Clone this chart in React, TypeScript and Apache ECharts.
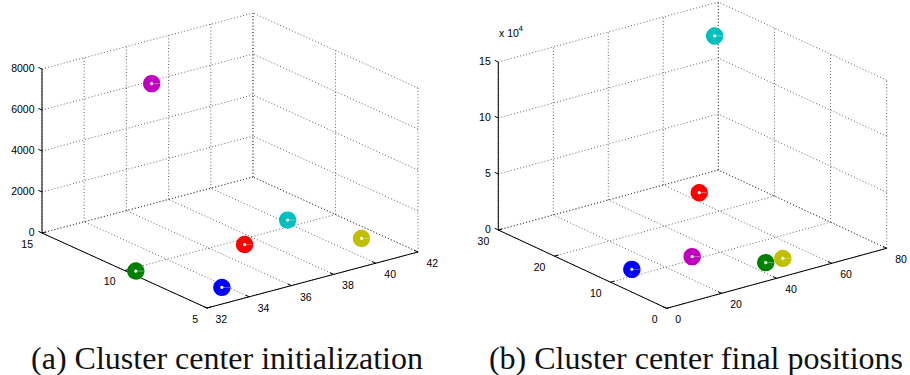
import React, { useEffect, useRef } from 'react';
import * as echarts from 'echarts';

// ---------- data ----------
const clusterColors = ['#0000ff', '#008000', '#ff0000', '#00bfbf', '#bf00bf', '#bfbf00'];

// (a) initial cluster centers
const initX = [33.8, 32.3, 37.3, 40.2, 35.4, 41.2];
const initY = [6.4, 9.7, 9.5, 10.6, 12.7, 7.4];
const initZ = [0, 0, 0, 0, 7200, 0];

// (b) final cluster centers
const finalX = [11.2, 45.2, 39.6, 65.2, 31.3, 51.2];
const finalY = [11.7, 4.5, 13.6, 23.4, 10.8, 4.4];
const finalZ = [0, 0, 45000, 145000, 0, 0];

const xTicksA = [32, 34, 36, 38, 40, 42];
const yTicksA = [5, 10, 15];
const zTicksA = [0, 2000, 4000, 6000, 8000];

const xTicksB = [0, 20, 40, 60, 80];
const yTicksB = [0, 10, 20, 30];
const zTicksB = [0, 50000, 100000, 150000];
const zExponentB = 4;

const captions = ['(a) Cluster center initialization', '(b) Cluster center final positions'];

// ---------- layout (pixel geometry of the projected boxes) ----------
const layoutA = { origin: [207, 308], xVec: [211, -56], yVec: [-165, -75], zLen: 164, zScale: 1 };
const layoutB = { origin: [666.7, 308.3], xVec: [220, -60], yVec: [-168.4, -78.3], zLen: 168, zScale: Math.pow(10, zExponentB) };

const TICK_FONT = '10.5px "Liberation Sans", Arial, sans-serif';

type Proj = (x: number, y: number, z: number) => number[];

function makeProj(L: any, xT: number[], yT: number[], zT: number[]): Proj {
  const x0 = xT[0], x1 = xT[xT.length - 1];
  const y0 = yT[0], y1 = yT[yT.length - 1];
  const z0 = zT[0], z1 = zT[zT.length - 1];
  return (x, y, z) => {
    const u = (x - x0) / (x1 - x0);
    const v = (y - y0) / (y1 - y0);
    const w = (z - z0) / (z1 - z0);
    return [
      L.origin[0] + u * L.xVec[0] + v * L.yVec[0],
      L.origin[1] + u * L.xVec[1] + v * L.yVec[1] - w * L.zLen,
    ];
  };
}

function unit(v: number[]) {
  const n = Math.hypot(v[0], v[1]);
  return [v[0] / n, v[1] / n];
}

function panelSeries(L: any, xT: number[], yT: number[], zT: number[], xs: number[], ys: number[], zs: number[]) {
  const proj = makeProj(L, xT, yT, zT);
  const xmin = xT[0], xmax = xT[xT.length - 1];
  const ymin = yT[0], ymax = yT[yT.length - 1];
  const zmin = zT[0], zmax = zT[zT.length - 1];

  const gridSegs: number[][] = [];
  xT.forEach((x) => gridSegs.push([x, ymin, zmin, x, ymax, zmin]));
  yT.forEach((y) => gridSegs.push([xmin, y, zmin, xmax, y, zmin]));
  xT.forEach((x) => gridSegs.push([x, ymax, zmin, x, ymax, zmax]));
  zT.forEach((z) => gridSegs.push([xmin, ymax, z, xmax, ymax, z]));
  yT.forEach((y) => gridSegs.push([xmax, y, zmin, xmax, y, zmax]));
  zT.forEach((z) => gridSegs.push([xmax, ymin, z, xmax, ymax, z]));

  const axisSegs: number[][] = [
    [xmin, ymin, zmin, xmax, ymin, zmin],
    [xmin, ymin, zmin, xmin, ymax, zmin],
    [xmin, ymax, zmin, xmin, ymax, zmax],
  ];

  const tickData: number[][] = [];
  xT.forEach((x) => tickData.push([0, x]));
  yT.forEach((y) => tickData.push([1, y]));
  zT.forEach((z) => tickData.push([2, z]));

  const uX = unit(L.xVec);
  const uY = unit(L.yVec);
  const TL = 4;

  const segRender = (style: any) => (params: any, api: any) => {
    const a = proj(api.value(0), api.value(1), api.value(2));
    const b = proj(api.value(3), api.value(4), api.value(5));
    return { type: 'line', shape: { x1: a[0], y1: a[1], x2: b[0], y2: b[1] }, style };
  };

  const grid = {
    type: 'custom', coordinateSystem: 'none', silent: true, z: 1,
    data: gridSegs,
    renderItem: segRender({ stroke: '#222', lineWidth: 0.7, lineDash: [1, 2.2], fill: null }),
  };
  const axes = {
    type: 'custom', coordinateSystem: 'none', silent: true, z: 2,
    data: axisSegs,
    renderItem: segRender({ stroke: '#000', lineWidth: 1, fill: null }),
  };
  const ticks = {
    type: 'custom', coordinateSystem: 'none', silent: true, z: 2,
    data: tickData,
    renderItem: (params: any, api: any) => {
      const ax = api.value(0);
      const val = api.value(1);
      let p: number[], d: number[], tx: number, ty: number, align: string, label: string;
      if (ax === 0) {
        p = proj(val, ymin, zmin); d = uY;
        tx = p[0] + 8.5; ty = p[1] + 11; align = 'left'; label = String(val);
      } else if (ax === 1) {
        p = proj(xmin, val, zmin); d = uX;
        tx = p[0] - 9; ty = p[1] + 10.5; align = 'right'; label = String(val);
      } else {
        p = proj(xmin, ymax, val); d = uY;
        tx = p[0] - 7.5; ty = p[1] - 1; align = 'right'; label = String(val / L.zScale);
      }
      return {
        type: 'group',
        children: [
          { type: 'line', shape: { x1: p[0], y1: p[1], x2: p[0] + d[0] * TL, y2: p[1] + d[1] * TL }, style: { stroke: '#000', lineWidth: 1 } },
          { type: 'text', x: tx, y: ty, style: { text: label, font: TICK_FONT, fill: '#000', align, verticalAlign: 'middle' } },
        ],
      };
    },
  };
  const points = {
    type: 'custom', coordinateSystem: 'none', silent: true, z: 3,
    data: xs.map((x, i) => [x, ys[i], zs[i], i]),
    renderItem: (params: any, api: any) => {
      const p = proj(api.value(0), api.value(1), api.value(2));
      const c = clusterColors[api.value(3)];
      return {
        type: 'group',
        children: [
          { type: 'circle', shape: { cx: p[0], cy: p[1], r: 8.7 }, style: { fill: c } },
          { type: 'line', shape: { x1: p[0], y1: p[1], x2: p[0] + 8, y2: p[1] }, style: { stroke: '#fff', lineWidth: 0.6, opacity: 0.6 } },
          { type: 'circle', shape: { cx: p[0], cy: p[1], r: 1.6 }, style: { fill: '#fff' } },
        ],
      };
    },
  };
  return [grid, axes, ticks, points];
}

export default function App() {
  const ref = useRef<HTMLDivElement>(null);
  useEffect(() => {
    if (!ref.current) return;
    const chart = echarts.init(ref.current, undefined, { renderer: 'svg' });
    const capFont = '32px "Liberation Serif", "Times New Roman", serif';
    const option: any = {
      animation: false,
      backgroundColor: '#ffffff',
      series: [
        ...panelSeries(layoutA, xTicksA, yTicksA, zTicksA, initX, initY, initZ),
        ...panelSeries(layoutB, xTicksB, yTicksB, zTicksB, finalX, finalY, finalZ),
      ],
      graphic: [
        { type: 'text', x: 227, y: 358, style: { text: captions[0], font: capFont, fill: '#111', align: 'center', verticalAlign: 'middle' } },
        { type: 'text', x: 696, y: 358, style: { text: captions[1], font: capFont, fill: '#111', align: 'center', verticalAlign: 'middle' } },
        { type: 'text', x: 499, y: 33, style: { text: 'x 10', font: TICK_FONT, fill: '#000', align: 'left', verticalAlign: 'middle' } },
        { type: 'text', x: 518.5, y: 28, style: { text: String(zExponentB), font: '8px "Liberation Sans", Arial, sans-serif', fill: '#000', align: 'left', verticalAlign: 'middle' } },
      ],
    };
    chart.setOption(option);
    return () => chart.dispose();
  }, []);
  return (
    <div
      ref={ref}
      style={{ position: 'fixed', left: 0, top: 0, width: 910, height: 375, background: '#fff' }}
    />
  );
}
